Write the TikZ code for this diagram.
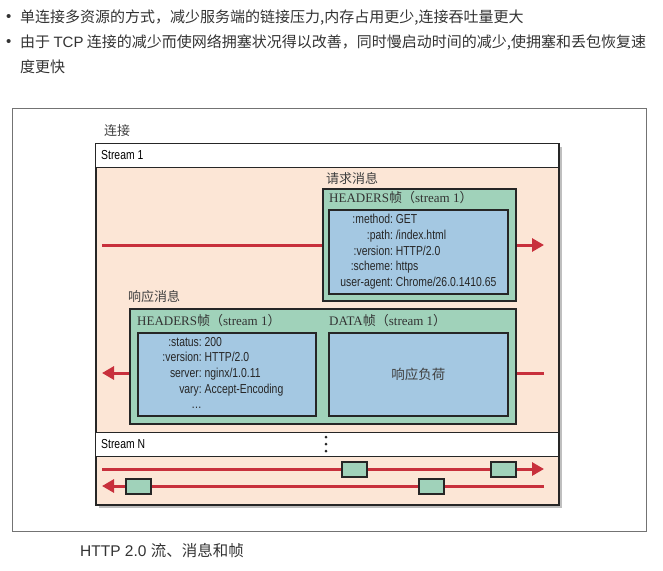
\documentclass[tikz,border=0pt]{standalone}
\usepackage{fontspec}
\setmainfont{Liberation Serif}
\setsansfont{Liberation Sans}
\newfontfamily\cjk{Noto Sans CJK SC}
\newfontfamily\narrow[FakeStretch=0.8]{Liberation Sans}
\usetikzlibrary{arrows.meta,positioning}
\definecolor{connpeach}{RGB}{252,230,214}
\definecolor{framegreen}{RGB}{160,210,186}
\definecolor{fieldblue}{RGB}{164,200,226}
\definecolor{flowred}{RGB}{200,48,60}
\definecolor{textgray}{RGB}{51,51,51}
\tikzset{%
  note line/.style={
    anchor=west,
    inner sep=0pt,
    text=textgray,
    font=\cjk\fontsize{15}{17}\selectfont
  },
  frame box/.style={
    draw=black!85,
    line width=1.8pt,
    fill=framegreen,
    anchor=north west,
    inner sep=0pt
  },
  field box/.style={
    frame box,
    fill=fieldblue
  },
  stream band/.style={
    draw=black!85,
    line width=1.3pt,
    fill=white,
    anchor=north west,
    inner sep=0pt,
    minimum width=463pt,
    minimum height=24pt
  },
  small label/.style={
    anchor=west,
    inner sep=0pt,
    text=black!75,
    font=\cjk\fontsize{13}{15}\selectfont
  },
  frame title/.style={
    anchor=west,
    inner sep=0pt,
    text=black!80,
    font=\fontsize{13}{15}\selectfont
  },
  fields/.style={
    inner sep=0pt,
    text=black!85,
    font=\narrow\fontsize{13}{15.6}\selectfont
  },
  flow/.style={
    draw=flowred,
    line width=3pt,
    -{Triangle[length=12pt,width=13pt]}
  },
  flow frame/.style={
    draw=black!85,
    line width=1.5pt,
    fill=framegreen,
    minimum width=25pt,
    minimum height=15pt,
    inner sep=0pt,
    anchor=west
  }
}
\newcommand{\frametitle}[1]{{\rmfamily #1}{\cjk 帧（}stream 1{\cjk ）}}

\begin{document}
\begin{tikzpicture}[x=1pt, y=-1pt]
\useasboundingbox (0,0) rectangle (663,570);
% notes above the figure
\node[note line] (bullet_a) at (6,18) {\sffamily •};
\node[note line] (note_a) at (20,18) {单连接多资源的方式，减少服务端的链接压力,内存占用更少,连接吞吐量更大};
\node[note line] (bullet_b) at (6,43) {\sffamily •};
\node[note line] (note_b) at (20,43) {由于 {\sffamily TCP} 连接的减少而使网络拥塞状况得以改善，同时慢启动时间的减少,使拥塞和丢包恢复速};
\node[note line] (note_c) at (20,67) {度更快};

% outer figure frame
\draw[black!55, line width=0.9pt] (12,108) rectangle (646,531);

% connection
\node[small label] (conn_label) at (104,131) {连接};
\fill[black!25] (99,147) rectangle (562,508);
\fill[black!45] (97,145) rectangle (560,506);
\node[draw=black!85, line width=1.5pt, fill=connpeach, anchor=north west,
      minimum width=463pt, minimum height=361pt, inner sep=0pt] (conn) at (95,143) {};
\node[stream band] (stream_1) at (95,143) {};
\node[anchor=west, inner sep=0pt, font=\narrow\fontsize{13}{15}\selectfont]
     (stream_1_label) at (101,155.5) {Stream 1};
\node[stream band] (stream_n) at (95,432) {};
\node[anchor=west, inner sep=0pt, font=\narrow\fontsize{13}{15}\selectfont]
     (stream_n_label) at (101,444) {Stream N};
\foreach \y in {437,444,451}
    \fill[black!85] (326,\y) circle (1.5pt);

% request message
\coordinate (req_from) at (102,245);
\coordinate (req_to) at (544,245);
\draw[flow] (req_from) -- (req_to);
\node[small label] (req_label) at (326,179) {请求消息};
\node[frame box, minimum width=193pt, minimum height=112pt] (req_frame) at (322,188) {};
\node[frame title] (req_title) at (329,198) {\frametitle{HEADERS}};
\node[field box, minimum width=179pt, minimum height=84pt] (req_fields) at (328,209) {};
\node[fields] (req_text) at (req_fields.center) {%
  \begin{tabular}{@{}r@{\ }l@{}}
    :method: & GET\\
    :path: & /index.html\\
    :version: & HTTP/2.0\\
    :scheme: & https\\
    user-agent: & Chrome/26.0.1410.65
  \end{tabular}};

% response message
\coordinate (resp_from) at (544,373);
\coordinate (resp_to) at (102,373);
\draw[flow] (resp_from) -- (resp_to);
\node[small label] (resp_label) at (128,297) {响应消息};
\node[frame box, minimum width=386pt, minimum height=115pt] (resp_frame) at (129,308) {};
\node[frame title] (resp_head_title) at (137,321) {\frametitle{HEADERS}};
\node[frame title] (resp_data_title) at (329,321) {\frametitle{DATA}};
\node[field box, minimum width=178pt, minimum height=83pt] (resp_fields) at (137,332) {};
\node[field box, minimum width=179pt, minimum height=83pt] (resp_data) at (328,332) {};
\node[fields] (resp_text) at ([xshift=-4pt]resp_fields.center) {%
  \begin{tabular}{@{}r@{\ }l@{}}
    :status: & 200\\
    :version: & HTTP/2.0\\
    server: & nginx/1.0.11\\
    vary: & Accept-Encoding\\
    \ldots & 
  \end{tabular}};
\node[small label, anchor=center, font=\cjk\fontsize{13.5}{15}\selectfont]
     (resp_payload) at (resp_data.center) {响应负荷};

% frames of stream N
\coordinate (up_from) at (102,469);
\coordinate (up_to) at (544,469);
\draw[flow] (up_from) -- (up_to);
\coordinate (down_from) at (544,486);
\coordinate (down_to) at (102,486);
\draw[flow] (down_from) -- (down_to);
\foreach \x/\n in {341/a,490/b}
    \node[flow frame] (up_\n) at (\x,469.5) {};
\foreach \x/\n in {125/a,418/b}
    \node[flow frame] (down_\n) at (\x,486.5) {};

% caption
\node[anchor=west, inner sep=0pt, text=textgray, font=\sffamily\fontsize{15.5}{18}\selectfont]
     (caption) at (80,551) {HTTP 2.0 {\cjk 流、消息和帧}};
\end{tikzpicture}
\end{document}
